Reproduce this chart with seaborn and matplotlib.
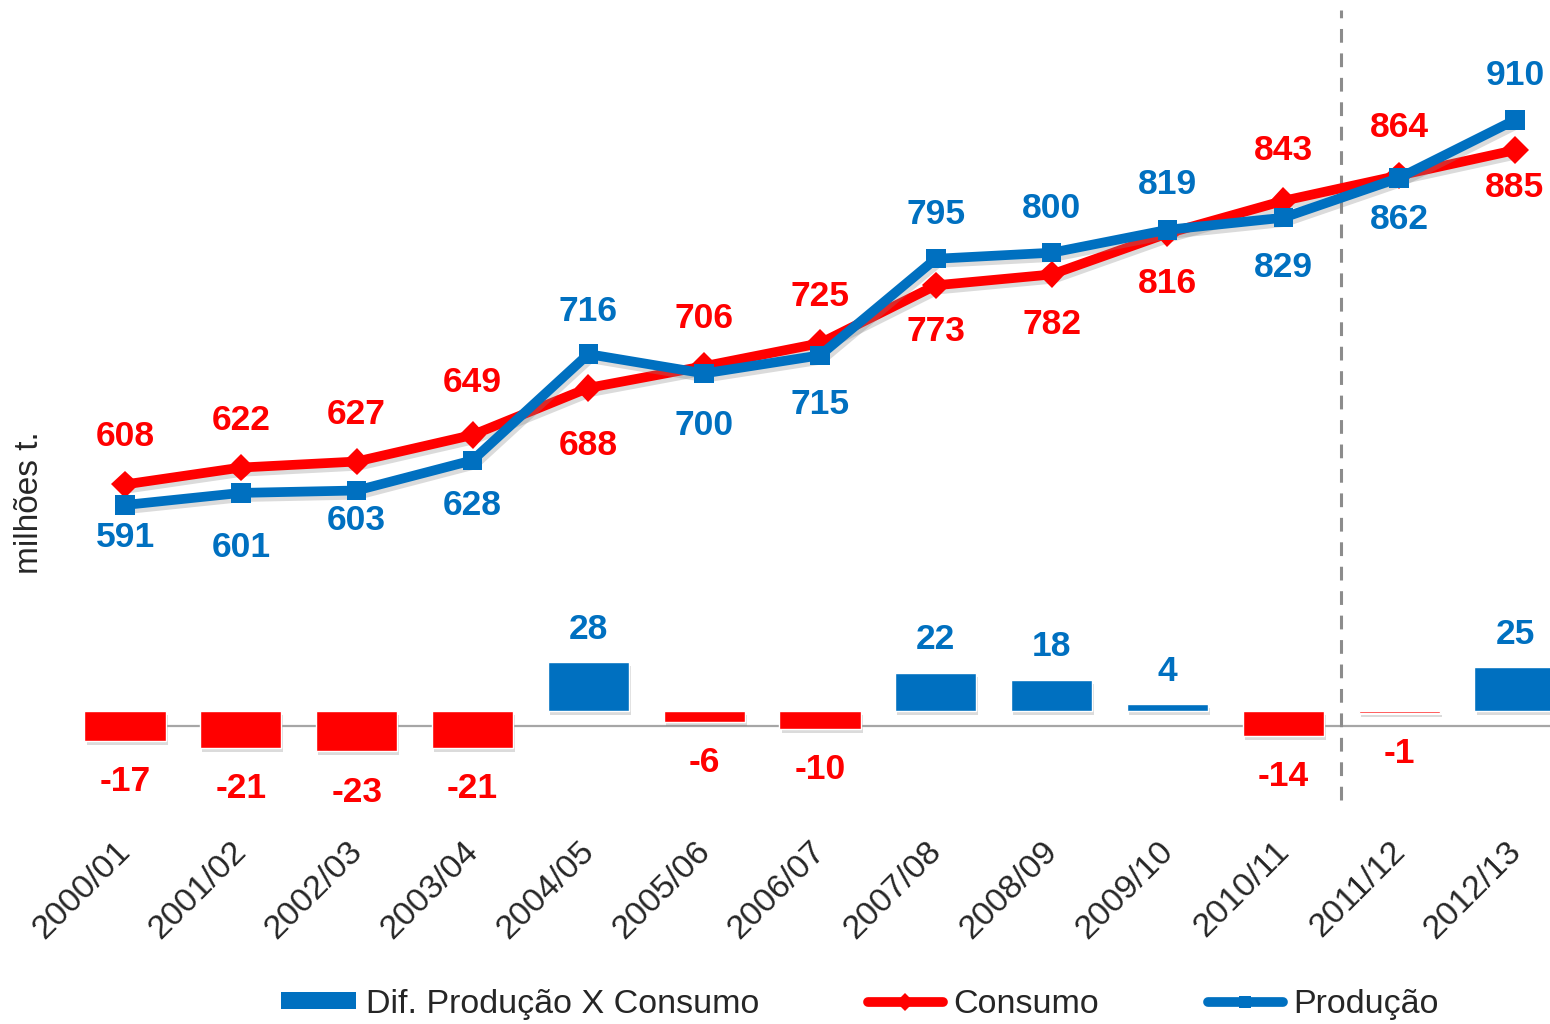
import numpy as np
import pandas as pd
import seaborn as sns
import matplotlib.pyplot as plt
import matplotlib.patheffects as pe
from matplotlib.lines import Line2D
from matplotlib.patches import Patch
from matplotlib.transforms import ScaledTranslation

# Data (milhões t.)
safras = [
    "2000/01", "2001/02", "2002/03", "2003/04", "2004/05", "2005/06", "2006/07",
    "2007/08", "2008/09", "2009/10", "2010/11", "2011/12", "2012/13",
]
producao = [591, 601, 603, 628, 716, 700, 715, 795, 800, 819, 829, 862, 910]
consumo = [608, 622, 627, 649, 688, 706, 725, 773, 782, 816, 843, 864, 885]
diferenca = [-17, -21, -23, -21, 28, -6, -10, 22, 18, 4, -14, -1, 25]

# label offsets in pixels (positive = above the point)
cons_dy = [48, 47, 47, 52, -58, 48, 47, -46, -50, -50, 50, 48, -37]
prod_dy = [-33, -55, -30, -45, 43, -52, -49, 44, 44, 45, -50, -42, 44]

RED = "#FF0000"
BLUE = "#0070C0"


def main():
    sns.set_style("white")
    plt.rcParams["font.family"] = ["Liberation Sans", "DejaVu Sans"]

    fig = plt.figure(figsize=(15.5, 10.24), dpi=100)
    pos = [67.1 / 1550, 1 - 830 / 1024, 1505.8 / 1550, 830 / 1024]
    ax_bar = fig.add_axes(pos)
    ax = fig.add_axes(pos)
    ax.patch.set_alpha(0)

    x = np.arange(len(safras))

    # Bars: difference production x consumption
    df_dif = pd.DataFrame({
        "safra": safras,
        "dif": diferenca,
        "sinal": ["pos" if d >= 0 else "neg" for d in diferenca],
    })
    sns.barplot(
        data=df_dif, x="safra", y="dif", hue="sinal",
        palette={"pos": BLUE, "neg": RED}, dodge=False, width=0.7,
        saturation=1, legend=False, ax=ax_bar,
    )
    for p in ax_bar.patches:
        p.set_path_effects([
            pe.SimplePatchShadow(offset=(1.5, -3), shadow_rgbFace="#888888", alpha=0.3),
            pe.Normal(),
        ])
    ax_bar.hlines(-8.6, 0, 12.6, color="#A6A6A6", lw=1.6, zorder=0)
    ax_bar.set_xlim(-0.5, 12.5)
    ax_bar.set_ylim(-68, 406.3)
    ax_bar.axis("off")

    for i, d in enumerate(diferenca):
        ax_bar.annotate(
            f"{d}", (i, d), xytext=(0, 33 if d > 0 else -41),
            textcoords="offset pixels", ha="center", va="center",
            color=BLUE if d > 0 else RED, fontsize=25.5, fontweight="bold",
        )

    # Lines
    shadow = [pe.SimpleLineShadow(offset=(1.5, -3), shadow_color="#888888", alpha=0.3), pe.Normal()]
    sns.lineplot(x=x, y=consumo, ax=ax, color=RED, lw=7, marker="D",
                 markersize=14, markeredgewidth=0)
    ax.lines[-1].set_path_effects(shadow)
    sns.lineplot(x=x, y=producao, ax=ax, color=BLUE, lw=7, marker="s",
                 markersize=14, markeredgewidth=0)
    ax.lines[-1].set_path_effects(shadow)

    for i, v in enumerate(consumo):
        ax.annotate(f"{v}", (i, v), xytext=(0, cons_dy[i]), textcoords="offset pixels",
                    ha="center", va="center", color=RED, fontsize=25.5, fontweight="bold")
    for i, v in enumerate(producao):
        ax.annotate(f"{v}", (i, v), xytext=(0, prod_dy[i]), textcoords="offset pixels",
                    ha="center", va="center", color=BLUE, fontsize=25.5, fontweight="bold")

    # separator between observed and forecast seasons
    ax.axvline(safras.index("2011/12") - 0.5, ymin=30 / 830, ymax=1 - 10 / 830,
               color="#8C8C8C", lw=2.2, ls=(0, (4.5, 3.5)), zorder=0)

    ax.set_xlim(-0.5, 12.5)
    ax.set_ylim(321.7, 1009.4)
    ax.set_yticks([])
    ax.set_xticks(x)
    ax.set_xticklabels(safras, rotation=45, ha="right", rotation_mode="anchor", fontsize=24.5)
    ax.tick_params(axis="x", length=0, pad=4)
    offset = ScaledTranslation(-10 / 100, 0, fig.dpi_scale_trans)
    for lab in ax.get_xticklabels():
        lab.set_transform(lab.get_transform() + offset)
    sns.despine(ax=ax, left=True, bottom=True)

    fig.text(30 / 1550, 1 - 503 / 1024, "milhões t.", rotation=90,
             ha="center", va="center", fontsize=24)

    handles = [
        Patch(facecolor=BLUE, edgecolor="none"),
        Line2D([], [], color=RED, lw=7, marker="D", markersize=9, markeredgewidth=0),
        Line2D([], [], color=BLUE, lw=7, marker="s", markersize=9, markeredgewidth=0),
    ]
    labels = ["Dif. Produção X Consumo", "Consumo", "Produção"]
    fig.legend(handles, labels, loc="center", bbox_to_anchor=(0.5545, 0.0195),
               ncol=3, frameon=False, fontsize=24.5, handlelength=2.2,
               handleheight=0.42, handletextpad=0.3, columnspacing=3.2)

    fig.savefig("out.png", dpi=100)


if __name__ == "__main__":
    main()
